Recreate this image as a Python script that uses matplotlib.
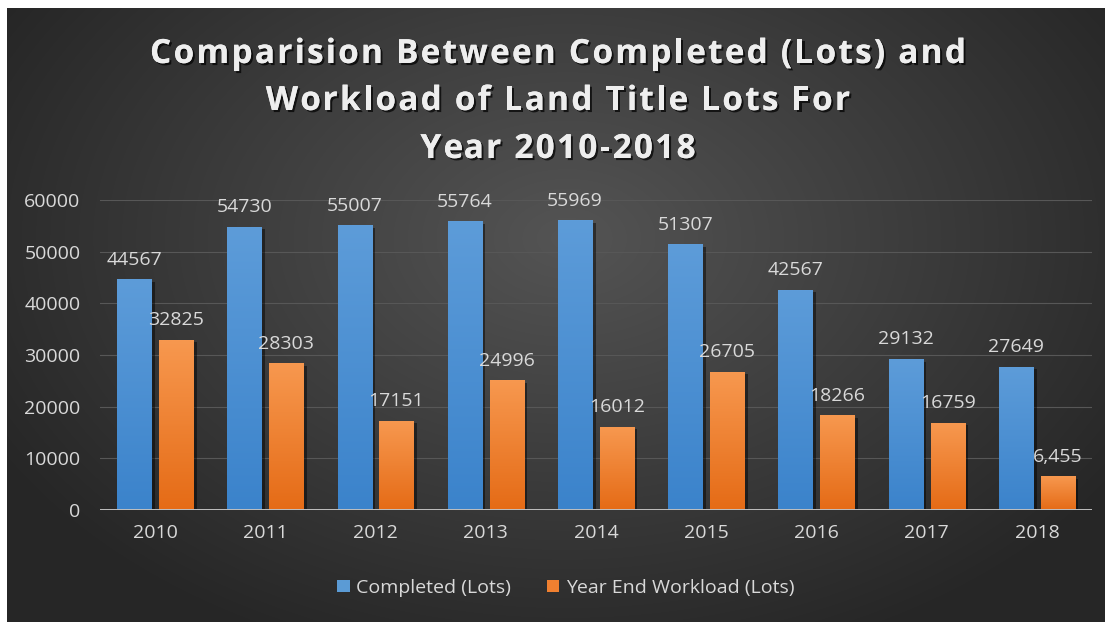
import numpy as np
import matplotlib
matplotlib.use("Agg")
import matplotlib.pyplot as plt
import matplotlib.patheffects as pe
from matplotlib.colors import LinearSegmentedColormap
from matplotlib.patches import Patch

years = ["2010", "2011", "2012", "2013", "2014", "2015", "2016", "2017", "2018"]
completed = [44567, 54730, 55007, 55764, 55969, 51307, 42567, 29132, 27649]
workload = [32825, 28303, 17151, 24996, 16012, 26705, 18266, 16759, 6455]
yticks = [0, 10000, 20000, 30000, 40000, 50000, 60000]

title_lines = ["Comparision Between Completed (Lots) and",
               "Workload of Land Title Lots For",
               "Year 2010-2018"]
series_names = ["Completed (Lots)", "Year End Workload (Lots)"]

TEXT = "#d9d9d9"
FONT = "Open Sans"
W, H = 1105, 622

fig = plt.figure(figsize=(W / 100, H / 100), dpi=100)
fig.patch.set_facecolor("white")

# dark radial background, lighter near the top centre
bg = fig.add_axes([7 / W, 0, 1 - 7 / W, 1 - 8 / H], zorder=-10)
h, w = 614, 1098
yy, xx = np.mgrid[0:h, 0:w]
r = np.sqrt(((xx - 560) / 620.0) ** 2 + ((yy - 230) / 420.0) ** 2)
shade = np.clip(0.33 - 0.17 * r, 0.15, 0.33)
bg.imshow(np.dstack([shade, shade, shade]), aspect="auto", extent=(0, 1, 0, 1))
bg.set_axis_off()

ax = fig.add_axes([100 / W, 112 / H, 992 / W, 310 / H])
ax.patch.set_alpha(0)

x = np.arange(len(years))
bw = 0.31
off = 0.19

blue_cm = LinearSegmentedColormap.from_list("b", ["#3b83cb", "#5d9cd9"])
orange_cm = LinearSegmentedColormap.from_list("o", ["#e56b16", "#f7984f"])
grad = np.linspace(0, 1, 128).reshape(-1, 1)

shadow = [pe.SimplePatchShadow(offset=(2.5, -1.5), shadow_rgbFace="black", alpha=0.45), pe.Normal()]
for vals, dx, cm in [(completed, -off, blue_cm), (workload, off, orange_cm)]:
    bars = ax.bar(x + dx, vals, width=bw, color=cm(0.5), zorder=2)
    for b in bars:
        b.set_path_effects(shadow)
        ax.imshow(grad, cmap=cm, origin="lower", aspect="auto", zorder=2.5,
                  extent=(b.get_x(), b.get_x() + b.get_width(), 0, b.get_height()))

# value labels above bars
for vals, dx in [(completed, -off), (workload, off)]:
    for i, v in enumerate(vals):
        label = f"{v:,}" if v < 10000 else f"{v}"
        ax.annotate(label, (x[i] + dx, v), xytext=(0, 8), textcoords="offset points",
                    ha="center", va="bottom", color=TEXT, fontsize=14, family=FONT,
                    annotation_clip=False, zorder=5)

ax.set_xlim(-0.5, len(years) - 0.5)
ax.set_ylim(0, 60000)
ax.set_xticks(x)
ax.set_xticklabels(years)
ax.set_yticks(yticks)
ax.set_yticklabels([str(t) for t in yticks])
ax.tick_params(axis="both", length=0, colors=TEXT, labelsize=14)
ax.tick_params(axis="x", pad=10)
ax.tick_params(axis="y", pad=14)
for lab in ax.get_xticklabels() + ax.get_yticklabels():
    lab.set_family(FONT)

for t in yticks[1:]:
    ax.axhline(t, color="#575757", lw=0.8, zorder=1)
ax.axhline(0, color="#bfbfbf", lw=1.4, zorder=3)
for s in ax.spines.values():
    s.set_visible(False)

# title with widened letter spacing, drawn one character at a time
renderer = fig.canvas.get_renderer()
tkw = dict(fontsize=24, fontweight="bold", family=FONT)


def text_width(s):
    t = fig.text(0, 0, s + "|", **tkw)
    wd = t.get_window_extent(renderer).width
    t.remove()
    return wd - bar_w


t0 = fig.text(0, 0, "|", **tkw)
bar_w = t0.get_window_extent(renderer).width
t0.remove()

track = (816 - text_width(title_lines[0])) / (len(title_lines[0]) - 1)
title_fx = [pe.withSimplePatchShadow(offset=(1.5, -1.5), shadow_rgbFace="black", alpha=0.7), pe.Normal()]
for line, base in zip(title_lines, [63, 110, 158]):
    full = text_width(line) + track * (len(line) - 1)
    left = 558 - full / 2
    for i, ch in enumerate(line):
        if ch == " ":
            continue
        px = left + text_width(line[:i]) + track * i
        fig.text(px / W, 1 - base / H, ch, ha="left", va="baseline", color="#eeeeee",
                 path_effects=title_fx, **tkw)

handles = [Patch(facecolor="#5b9bd5"), Patch(facecolor="#f08030")]
leg = fig.legend(handles, series_names, loc="center", bbox_to_anchor=(566 / W, 1 - 588 / H),
                 ncol=2, frameon=False, handlelength=0.62, handleheight=0.62, handletextpad=0.35,
                 columnspacing=1.85, prop={"family": FONT, "size": 14})
for t in leg.get_texts():
    t.set_color(TEXT)

fig.savefig("out.png", dpi=100)
